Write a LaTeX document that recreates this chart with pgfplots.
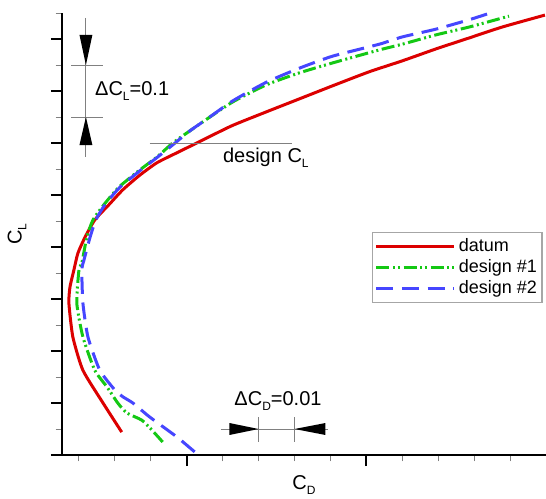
\documentclass[border=0pt]{standalone}
\usepackage{pgfplots}
\pgfplotsset{compat=1.18}
\usepackage{fontspec}
\setmainfont{Liberation Sans}

\definecolor{datum}{RGB}{220,0,0}
\definecolor{des1}{RGB}{20,200,20}
\definecolor{des2}{RGB}{70,70,255}
\newcommand\sub[1]{\raisebox{-0.45ex}{\fontsize{6}{6}\selectfont #1}}

\begin{document}
\begin{tikzpicture}
\useasboundingbox (-31pt,-21.5pt) rectangle (242pt,227.5pt);
\begin{axis}[
	scale only axis,
	width=242pt, height=221pt,
	xmin=0.01528, xmax=0.15, ymin=0, ymax=0.85,
	axis lines*=left,
	axis line style={line width=1.2pt},
	tick align=outside,
	xtick={0.05,0.10}, minor xtick={0.02,0.03,0.04,0.06,0.07,0.08,0.09,0.11,0.12,0.13,0.14,0.15},
	ytick={0,0.1,0.2,0.3,0.4,0.5,0.6,0.7,0.8}, minor ytick={0.05,0.15,0.25,0.35,0.45,0.55,0.65,0.75,0.85},
	xticklabel=\empty, yticklabel=\empty,
	major tick length=5.5pt, minor tick length=3.2pt,
	major tick style={line width=1pt, black},
	minor tick style={line width=0.5pt, gray},
	clip=false,
	font=\fontsize{10}{12}\selectfont,
	xlabel={C\sub{D}}, ylabel={C\sub{L}},
	xlabel style={at={(axis description cs:0.5,-0.068)}, anchor=center},
	ylabel style={at={(axis description cs:-0.093,0.5)}, anchor=center},
	legend style={at={(rel axis cs:0.641,0.5045)}, anchor=north west,
		draw=gray!70, line width=0.6pt, font=\fontsize{9}{10}\selectfont,
		inner xsep=1pt, inner ysep=1.5pt, row sep=-0.5pt,
		cells={anchor=west},
		nodes={inner sep=1.5pt, text height=6.5pt, text depth=1.5pt}},
	legend image code/.code={\draw[#1] (0pt,0pt) -- (39pt,0pt);},
]
% datum
\addplot[datum, line width=1.5pt, smooth, tension=0.35] coordinates {
(0.0319,0.044) (0.0267,0.100) (0.0211,0.163) (0.0183,0.227) (0.0172,0.292)
(0.0175,0.323) (0.0186,0.356) (0.0197,0.388) (0.0217,0.419) (0.0244,0.452)
(0.0283,0.481) (0.0322,0.510) (0.0369,0.538) (0.0417,0.562) (0.0472,0.581)
(0.0528,0.600) (0.0625,0.633) (0.0722,0.660) (0.0814,0.685) (0.0906,0.710)
(0.1008,0.737) (0.1100,0.758) (0.1194,0.781) (0.1286,0.802) (0.1378,0.823)
(0.1497,0.846)};
% design #1
\addplot[des1, line width=1.5pt, dash pattern=on 6.5pt off 1.8pt on 1pt off 1.5pt on 1pt off 1.8pt, smooth, tension=0.35] coordinates {
(0.0433,0.025) (0.0403,0.048) (0.0375,0.067) (0.0333,0.081) (0.0308,0.100)
(0.0278,0.131) (0.0244,0.163) (0.0211,0.227) (0.0194,0.292) (0.0200,0.356)
(0.0208,0.369) (0.0222,0.419) (0.0239,0.452) (0.0269,0.481) (0.0311,0.515)
(0.0369,0.548) (0.0417,0.573) (0.0461,0.600) (0.0508,0.623) (0.0556,0.646)
(0.0628,0.679) (0.0722,0.712) (0.0814,0.735) (0.0906,0.754) (0.1036,0.779)
(0.1100,0.790) (0.1194,0.808) (0.1286,0.823) (0.1397,0.844)};
% design #2
\addplot[des2, line width=1.5pt, dash pattern=on 8.5pt off 4.3pt, smooth, tension=0.35] coordinates {
(0.0522,0.006) (0.0472,0.035) (0.0397,0.073) (0.0350,0.100) (0.0322,0.112)
(0.0300,0.125) (0.0258,0.163) (0.0225,0.227) (0.0211,0.292) (0.0208,0.356)
(0.0214,0.375) (0.0231,0.419) (0.0247,0.452) (0.0272,0.481) (0.0314,0.515)
(0.0372,0.548) (0.0419,0.573) (0.0464,0.598) (0.0508,0.623) (0.0556,0.646)
(0.0628,0.681) (0.0722,0.717) (0.0814,0.744) (0.0906,0.767) (0.1036,0.790)
(0.1100,0.804) (0.1194,0.819) (0.1286,0.837) (0.1336,0.848)};
\legend{datum, design \#1, design \#2}

% Delta C_L marker
\draw[gray, line width=0.5pt] (axis cs:0.02194,0.8404) -- (axis cs:0.02194,0.573);
\draw[gray, line width=0.5pt] (axis cs:0.0178,0.75) -- (axis cs:0.0267,0.75);
\draw[gray, line width=0.5pt] (axis cs:0.0178,0.65) -- (axis cs:0.0267,0.65);
\fill[black] (axis cs:0.02194,0.75) -- (axis cs:0.02014,0.808) -- (axis cs:0.02374,0.808) -- cycle;
\fill[black] (axis cs:0.02194,0.65) -- (axis cs:0.02014,0.596) -- (axis cs:0.02374,0.596) -- cycle;
\node[anchor=west, inner sep=0pt] at (axis cs:0.0244,0.70) {ΔC\sub{L}=0.1};

% design C_L
\draw[gray, line width=0.5pt] (axis cs:0.0397,0.6) -- (axis cs:0.0794,0.6);
\node[anchor=west, inner sep=0pt] at (axis cs:0.0600,0.571) {design C\sub{L}};

% Delta C_D marker
\draw[gray, line width=0.5pt] (axis cs:0.0594,0.05) -- (axis cs:0.0892,0.05);
\draw[gray, line width=0.5pt] (axis cs:0.07,0.073) -- (axis cs:0.07,0.025);
\draw[gray, line width=0.5pt] (axis cs:0.08,0.073) -- (axis cs:0.08,0.025);
\fill[black] (axis cs:0.07,0.05) -- (axis cs:0.0619,0.0615) -- (axis cs:0.0619,0.0385) -- cycle;
\fill[black] (axis cs:0.08,0.05) -- (axis cs:0.0886,0.0615) -- (axis cs:0.0886,0.0385) -- cycle;
\node[inner sep=0pt] at (axis cs:0.0754,0.104) {ΔC\sub{D}=0.01};
\end{axis}
\end{tikzpicture}
\end{document}
